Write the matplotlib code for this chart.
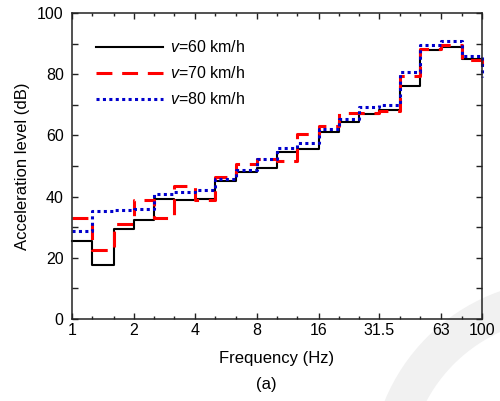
import matplotlib

matplotlib.use("Agg")
import matplotlib.pyplot as plt
from matplotlib.patches import Wedge
from matplotlib.ticker import FixedLocator, NullFormatter

# 1/3-octave band centre frequencies (Hz)
bands = [1, 1.25, 1.6, 2, 2.5, 3.15, 4, 5, 6.3, 8, 10, 12.5, 16, 20, 25,
         31.5, 40, 50, 63, 80, 100]
level_60 = [25.4, 17.5, 29.5, 32.4, 39.2, 38.8, 39.2, 45.1, 48.1, 49.2, 54.5,
            55.5, 61.0, 64.5, 67.0, 68.2, 76.3, 88.0, 88.8, 84.9, 84.9]
level_70 = [33.1, 22.5, 31.1, 39.0, 32.9, 43.5, 38.8, 46.5, 50.5, 52.4, 51.7,
            60.4, 63.2, 67.2, 67.3, 68.0, 79.4, 88.2, 89.7, 84.5, 82.5]
level_80 = [28.9, 35.2, 35.7, 36.1, 40.7, 41.4, 42.2, 45.7, 48.7, 52.2, 56.0,
            57.5, 62.1, 65.3, 69.2, 70.1, 80.6, 89.4, 91.0, 86.1, 79.0]
major_ticks = [1, 2, 4, 8, 16, 31.5, 63, 100]
major_labels = ["1", "2", "4", "8", "16", "31.5", "63", "100"]
series_labels = ["$v$=60 km/h", "$v$=70 km/h", "$v$=80 km/h"]

plt.rcParams["font.family"] = ["Liberation Sans", "DejaVu Sans"]
plt.rcParams["mathtext.fontset"] = "custom"
plt.rcParams["mathtext.it"] = "Liberation Sans:italic"
plt.rcParams["mathtext.rm"] = "Liberation Sans"

fig = plt.figure(figsize=(5.0, 4.01), dpi=100)

# faint watermark ring in the lower right corner
bg = fig.add_axes((0, 0, 1, 1), zorder=-5)
bg.set_xlim(0, 500)
bg.set_ylim(401, 0)
bg.axis("off")
bg.add_patch(Wedge((565, 475), 195, 90, 270, width=38, color="#f1f1f1", lw=0))

ax = fig.add_axes((0.144, 0.2045, 0.82, 0.763))
ax.patch.set_alpha(0)

ax.step(bands, level_60, where="post", color="black", lw=1.5,
        clip_on=False, label=series_labels[0])
ax.step(bands, level_70, where="post", color="#ff0000", lw=2.2,
        dashes=(5.2, 3.2), clip_on=False, label=series_labels[1])
ax.step(bands, level_80, where="post", color="#0000cc", lw=2.2,
        dashes=(1.0, 1.1), clip_on=False, label=series_labels[2])

ax.set_xscale("log")
ax.set_xlim(1, 100)
ax.set_ylim(0, 100)
ax.xaxis.set_major_locator(FixedLocator(major_ticks))
ax.set_xticklabels(major_labels)
ax.xaxis.set_minor_locator(FixedLocator([b for b in bands if b not in major_ticks]))
ax.xaxis.set_minor_formatter(NullFormatter())
ax.set_yticks(range(0, 101, 10))
ax.set_yticklabels([str(v) if v % 20 == 0 else "" for v in range(0, 101, 10)])

ax.tick_params(which="both", direction="in", top=True, right=True,
               labelsize=11.5, width=1.0, color="#222222")
ax.tick_params(which="major", length=4)
ax.tick_params(which="minor", length=2.5)
ax.tick_params(axis="x", pad=3)
ax.tick_params(axis="y", pad=6)
for spine in ax.spines.values():
    spine.set_linewidth(1.1)
    spine.set_color("#222222")

ax.set_xlabel("Frequency (Hz)", fontsize=12, labelpad=9)
ax.set_ylabel("Acceleration level (dB)", fontsize=12, labelpad=5)

ax.legend(loc="upper left", frameon=False, fontsize=11.5, handlelength=4.2,
          handletextpad=0.45, labelspacing=0.62, borderaxespad=0.6,
          bbox_to_anchor=(0.02, 0.966))

fig.text(266 / 500, 1 - 384 / 401, "(a)", ha="center", va="center", fontsize=12)

fig.savefig("out.png", dpi=100, facecolor="white")
